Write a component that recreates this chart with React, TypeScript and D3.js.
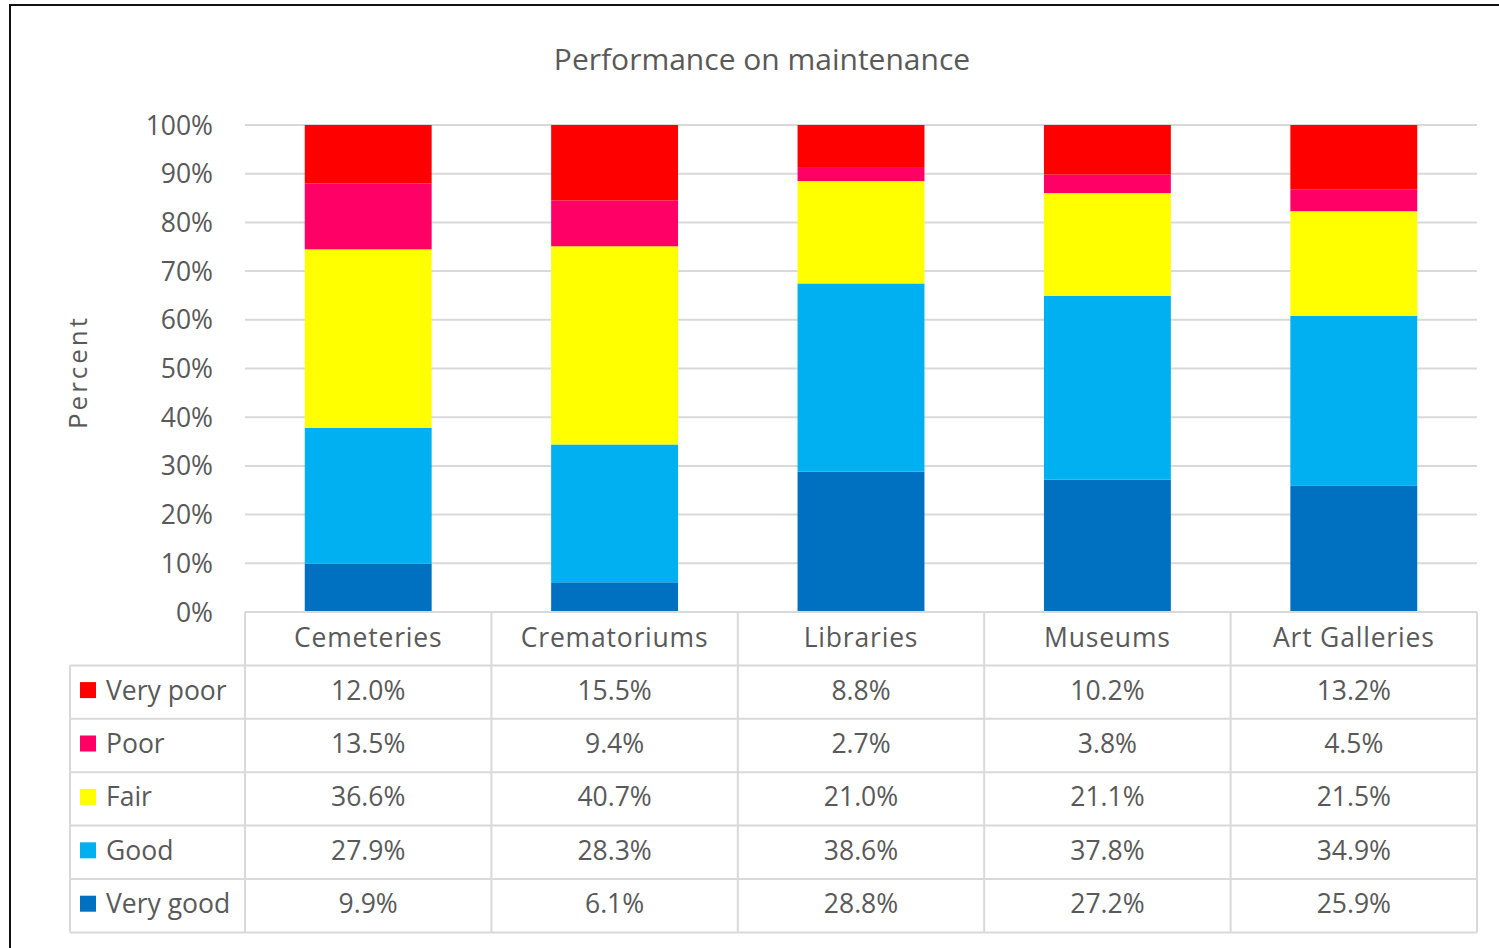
import React from 'react';
import * as d3 from 'd3';

const categories = ['Cemeteries', 'Crematoriums', 'Libraries', 'Museums', 'Art Galleries'];
// top of the table first, same as the picture
const seriesNames = ['Very poor', 'Poor', 'Fair', 'Good', 'Very good'];
const seriesColors = ['#FF0000', '#FF0066', '#FFFF00', '#00B0F0', '#0070C0'];
const veryPoor = [12.0, 15.5, 8.8, 10.2, 13.2];
const poor = [13.5, 9.4, 2.7, 3.8, 4.5];
const fair = [36.6, 40.7, 21.0, 21.1, 21.5];
const good = [27.9, 28.3, 38.6, 37.8, 34.9];
const veryGood = [9.9, 6.1, 28.8, 27.2, 25.9];
const yTicks = [0, 0.1, 0.2, 0.3, 0.4, 0.5, 0.6, 0.7, 0.8, 0.9, 1];

const seriesValues = [veryPoor, poor, fair, good, veryGood];

const W = 1499
const H = 948
const plot = { left: 245, right: 1477, top: 125, bottom: 612 }
const rowH = 53.4
const tableLeft = 70
const font = '"Open Sans", "Noto Sans", sans-serif'
const fs = 26.5
const textColor = '#595959'
const lineColor = '#d9d9d9'

export default function App() {
  const x = d3
    .scaleBand<string>()
    .domain(categories)
    .range([plot.left, plot.right])
    .paddingInner(0.485)
    .paddingOuter(0.2425)

  const y = d3.scaleLinear().domain([0, 1]).range([plot.bottom, plot.top])

  // rows for stacking, bottom series first
  const rows = categories.map((c, i) => {
    const r: any = { cat: c }
    seriesNames.forEach((s, j) => (r[s] = seriesValues[j][i]))
    return r
  })
  const stacked = d3
    .stack()
    .keys(seriesNames.slice().reverse())
    .offset(d3.stackOffsetExpand)(rows)

  const colorOf = d3.scaleOrdinal<string, string>().domain(seriesNames).range(seriesColors)

  const bandEdges = categories.map(c => (x(c) as number) - (x.step() - x.bandwidth()) / 2)
  bandEdges.push(plot.right)

  const tableBottom = plot.bottom + rowH * (seriesNames.length + 1)

  return (
    <svg
      width={W}
      height={H}
      style={{ position: 'absolute', left: 0, top: 0, background: '#fff' }}
    >
      <rect x={0} y={0} width={W} height={H} fill="#fff" />
      <rect x={10} y={5} width={W} height={H + 20} fill="none" stroke="#111" strokeWidth={2} />

      <text
        x={762}
        y={70}
        textAnchor="middle"
        fontFamily={font}
        fontSize={30}
        fill={textColor}
      >
        Performance on maintenance
      </text>

      {/* gridlines + y labels */}
      {yTicks.map(t => (
        <g key={t}>
          <line
            x1={plot.left}
            x2={plot.right}
            y1={y(t)}
            y2={y(t)}
            stroke={lineColor}
            strokeWidth={2}
          />
          <text
            x={213}
            y={y(t)}
            dy="0.36em"
            textAnchor="end"
            fontFamily={font}
            fontSize={fs}
            fill={textColor}
          >
            {d3.format('.0%')(t)}
          </text>
        </g>
      ))}

      <text
        transform={`translate(87,${372}) rotate(-90)`}
        textAnchor="middle"
        fontFamily={font}
        fontSize={26}
        fill={textColor}
        letterSpacing={3}
      >
        Percent
      </text>

      {/* bars */}
      {stacked.map(layer => (
        <g key={layer.key} fill={colorOf(layer.key)}>
          {layer.map((d, i) => (
            <rect
              key={i}
              x={x(categories[i])}
              width={x.bandwidth()}
              y={y(d[1])}
              height={y(d[0]) - y(d[1])}
            />
          ))}
        </g>
      ))}

      {/* data table */}
      <g stroke={lineColor} strokeWidth={2} fill="none">
        {bandEdges.map((e, i) => (
          <line key={'v' + i} x1={e} x2={e} y1={plot.bottom} y2={tableBottom} />
        ))}
        <line x1={tableLeft} x2={tableLeft} y1={plot.bottom + rowH} y2={tableBottom} />
        <line x1={plot.left} x2={plot.right} y1={plot.bottom} y2={plot.bottom} />
        {seriesNames.map((s, j) => (
          <line
            key={'h' + j}
            x1={tableLeft}
            x2={plot.right}
            y1={plot.bottom + rowH * (j + 1)}
            y2={plot.bottom + rowH * (j + 1)}
          />
        ))}
        <line x1={tableLeft} x2={plot.right} y1={tableBottom} y2={tableBottom} />
      </g>

      {categories.map(c => (
        <text
          key={c}
          x={(x(c) as number) + x.bandwidth() / 2}
          y={plot.bottom + rowH / 2 - 1}
          dy="0.36em"
          textAnchor="middle"
          fontFamily={font}
          fontSize={fs}
          fill={textColor}
          letterSpacing={0.8}
        >
          {c}
        </text>
      ))}

      {seriesNames.map((s, j) => {
        const cy = plot.bottom + rowH * (j + 1.5) - 2
        return (
          <g key={s}>
            <rect x={80} y={cy - 8} width={16} height={16} fill={colorOf(s)} />
            <text
              x={106}
              y={cy}
              dy="0.36em"
              fontFamily={font}
              fontSize={fs}
              fill={textColor}
            >
              {s}
            </text>
            {categories.map((c, i) => (
              <text
                key={c}
                x={(x(c) as number) + x.bandwidth() / 2}
                y={cy}
                dy="0.36em"
                textAnchor="middle"
                fontFamily={font}
                fontSize={fs}
                fill={textColor}
              >
                {d3.format('.1f')(seriesValues[j][i]) + '%'}
              </text>
            ))}
          </g>
        )
      })}
    </svg>
  )
}
